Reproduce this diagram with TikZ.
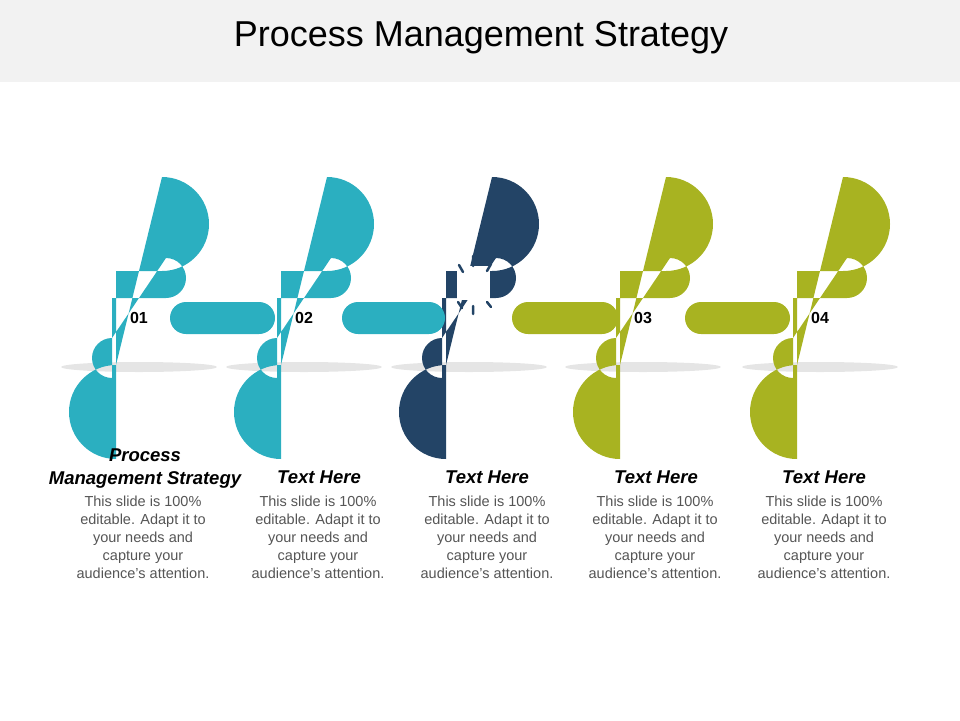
\documentclass[tikz,border=0pt]{standalone}
\usepackage{fontspec}
\setmainfont{Liberation Sans}
\definecolor{teal1}{HTML}{2BAFC0}
\definecolor{navy1}{HTML}{234466}
\definecolor{green1}{HTML}{A8B321}
\definecolor{band}{HTML}{F2F2F2}
\definecolor{body}{HTML}{555555}
\begin{document}
\begin{tikzpicture}[x=1pt,y=-1pt,
  num/.style={font=\fontsize{16}{18}\selectfont\bfseries},
  ttl/.style={font=\fontsize{18.5}{23}\selectfont\bfseries\itshape,align=center},
  bodytxt/.style={font=\fontsize{14.5}{18}\selectfont,text=body,align=center}]
\useasboundingbox (0,0) rectangle (960,720);
\fill[band] (0,0) rectangle (960,82);
\node (title) at (481,38) {\fontsize{36}{40}\selectfont Process Management Strategy};
% shadows
\foreach \cx in {139,304,469,643,820}{
  \fill[black!10] (\cx,367) ellipse (78 and 5);
}
% rings
\newcommand{\myring}[2]{%
  \fill[#2,even odd rule] (#1-23,271) -- (#1+23,271) arc[start angle=90,end angle=-90,radius=47]
   -- (#1-23,365) arc[start angle=-90,end angle=-270,radius=47] -- cycle
   (#1-27,298) -- (#1+27,298) arc[start angle=90,end angle=-90,radius=20]
   -- (#1-27,338) arc[start angle=-90,end angle=-270,radius=20] -- cycle;}
\myring{139}{teal1}
\myring{304}{teal1}
\myring{469}{navy1}
\myring{643}{green1}
\myring{820}{green1}
% gap in dark ring
\fill[white] (457,266) rectangle (490,300);
\draw[navy1,line width=2.5pt,line cap=round]
  (473,256)--(473,266) (459,265)--(463,272) (491,264)--(487,271)
  (458,302)--(462,308) (473,306)--(473,314) (487,302)--(491,307);
% bars
\newcommand{\mybar}[3]{%
  \fill[#3,rounded corners=16pt] (#1,302) rectangle (#2,334);}
\mybar{170}{275}{teal1}
\mybar{342}{445}{teal1}
\mybar{512}{618}{green1}
\mybar{685}{790}{green1}
% numbers
\node[num] (n1) at (139,318) {01};
\node[num] (n2) at (304,318) {02};
\node[num] (n3) at (643,318) {03};
\node[num] (n4) at (820,318) {04};
% texts
\node[ttl] (t1) at (145,469) {Process\\Management Strategy};
\node[ttl] (t2) at (319,477) {Text Here};
\node[ttl] (t3) at (487,477) {Text Here};
\node[ttl] (t4) at (656,477) {Text Here};
\node[ttl] (t5) at (824,477) {Text Here};
\foreach \cx/\nm in {143/b1,318/b2,487/b3,655/b4,824/b5}{
  \node[bodytxt,anchor=north] (\nm) at (\cx,492) {This slide is 100\%\\editable. Adapt it to\\your needs and\\capture your\\audience's attention.};
}
\end{tikzpicture}
\end{document}
